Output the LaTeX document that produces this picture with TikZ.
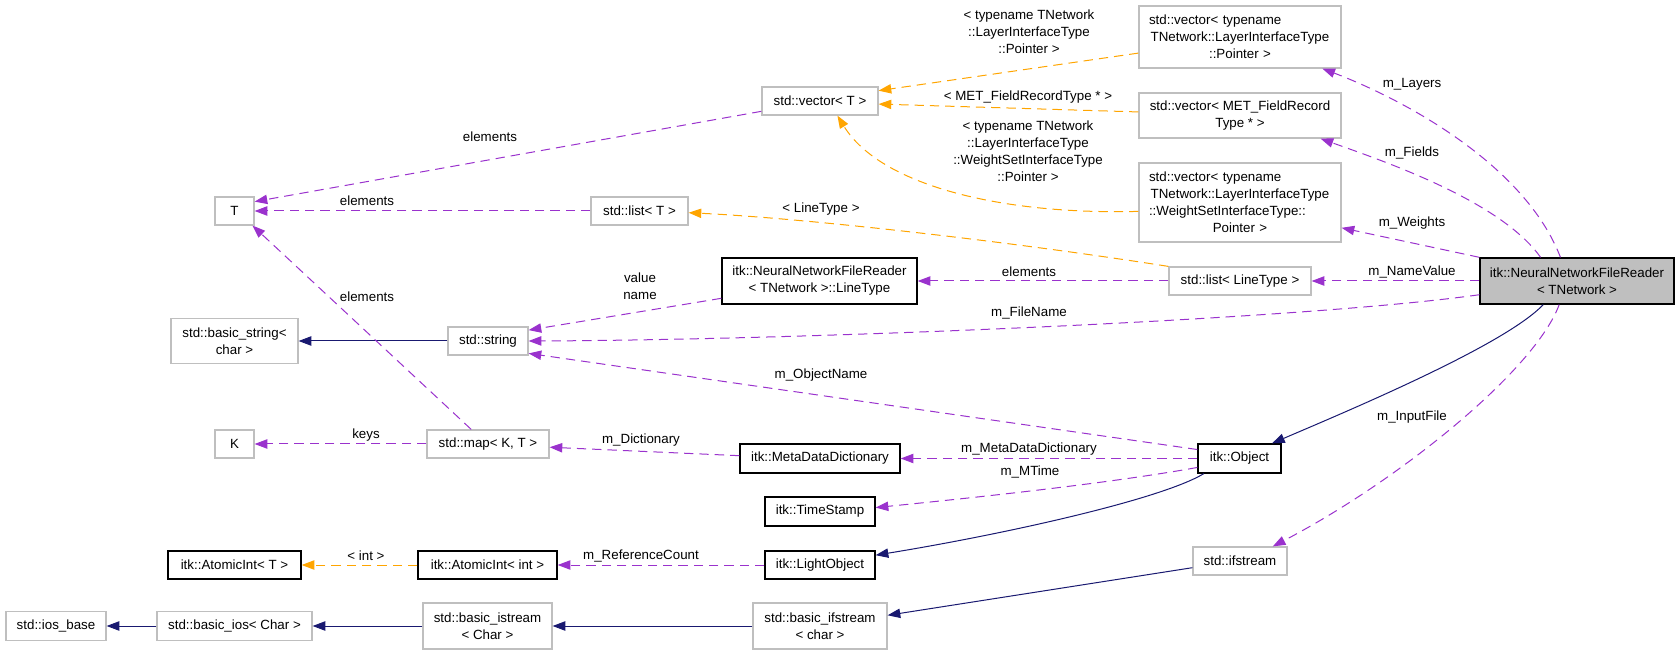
\documentclass[tikz,border=0pt]{standalone}
\usepackage{fontspec}
\setmainfont{Liberation Sans}
\usetikzlibrary{arrows.meta}
\definecolor{membcol}{HTML}{9A32CD}
\definecolor{tmplcol}{HTML}{FFA500}
\definecolor{inhcol}{HTML}{191970}
\definecolor{boxgray}{HTML}{BFBFBF}
\newcommand{\lline}[1]{\makebox[\linewidth][l]{#1}}
\begin{document}
\begin{tikzpicture}[x=0.75pt, y=-0.75pt, >={Triangle[length=9.5pt,width=7pt]},
  every node/.style={font=\fontsize{10pt}{12.75pt}\selectfont},
  gbox/.style={draw=boxgray, line width=0.9pt, align=center, inner sep=0pt},
  bbox/.style={draw=black, line width=1pt, align=center, inner sep=0pt},
  lbl/.style={align=center, inner sep=0pt},
  memb/.style={->, membcol, line width=0.75pt, dash pattern=on 7pt off 4.5pt},
  tmpl/.style={->, tmplcol, line width=0.75pt, dash pattern=on 7pt off 4.5pt},
  inh/.style={->, inhcol, line width=0.75pt}]
\useasboundingbox (0,0) rectangle (1680,655);

\node[bbox, fill=boxgray, minimum width=145.5pt, minimum height=34.5pt] (a) at (1577,281) {itk::NeuralNetworkFileReader\\< TNetwork >};
\node[gbox, text width=136.5pt, minimum width=151.5pt, minimum height=46.5pt] (b) at (1240,37) {\lline{std::vector< typename}\\TNetwork::LayerInterfaceType\\::Pointer >};
\node[gbox, minimum width=151.5pt, minimum height=33.75pt] (c) at (1240,115.5) {std::vector< MET\_FieldRecord\\Type * >};
\node[gbox, text width=136.5pt, minimum width=151.5pt, minimum height=59.25pt] (d) at (1240,202.5) {\lline{std::vector< typename}\\TNetwork::LayerInterfaceType\\\lline{::WeightSetInterfaceType::}\\Pointer >};
\node[gbox, minimum width=87pt, minimum height=21pt] (e) at (820,101) {std::vector< T >};
\node[gbox, minimum width=106.5pt, minimum height=21pt] (f) at (1240,281) {std::list< LineType >};
\node[bbox, minimum width=146.25pt, minimum height=34.5pt] (g) at (819.5,281) {itk::NeuralNetworkFileReader\\< TNetwork >::LineType};
\node[gbox, minimum width=72.75pt, minimum height=21pt] (h) at (639.5,211) {std::list< T >};
\node[gbox, minimum width=29.25pt, minimum height=21pt] (i) at (234.5,211) {T};
\node[gbox, minimum width=60pt, minimum height=21pt] (j) at (488,341) {std::string};
\node[gbox, minimum width=95.25pt, minimum height=33.75pt] (k) at (234.5,341) {std::basic\_string<\\char >};
\node[gbox, minimum width=91.5pt, minimum height=21pt] (l) at (488,444) {std::map< K, T >};
\node[gbox, minimum width=29.25pt, minimum height=21pt] (m) at (234.5,444) {K};
\node[bbox, minimum width=120pt, minimum height=21.75pt] (n) at (820,458.5) {itk::MetaDataDictionary};
\node[bbox, minimum width=62.25pt, minimum height=21.75pt] (o) at (1239.5,458.5) {itk::Object};
\node[bbox, minimum width=82.5pt, minimum height=21.75pt] (p) at (820,511.5) {itk::TimeStamp};
\node[bbox, minimum width=82.5pt, minimum height=21pt] (q) at (820,565) {itk::LightObject};
\node[bbox, minimum width=104.25pt, minimum height=21pt] (r) at (487.5,565) {itk::AtomicInt< int >};
\node[bbox, minimum width=99.75pt, minimum height=21pt] (s) at (234.5,565) {itk::AtomicInt< T >};
\node[gbox, minimum width=70.5pt, minimum height=21pt] (t) at (1240,561) {std::ifstream};
\node[gbox, minimum width=100.5pt, minimum height=34.5pt] (u) at (820,626) {std::basic\_ifstream\\< char >};
\node[gbox, minimum width=96.75pt, minimum height=34.5pt] (v) at (487.5,626) {std::basic\_istream\\< Char >};
\node[gbox, minimum width=116.25pt, minimum height=21.75pt] (w) at (234.5,626) {std::basic\_ios< Char >};
\node[gbox, minimum width=75pt, minimum height=21.75pt] (x) at (56,626) {std::ios\_base};

\node[lbl] (lab1) at (1029,31.5) {< typename TNetwork\\::LayerInterfaceType\\::Pointer >};
\node[lbl] (lab2) at (1028,97) {< MET\_FieldRecordType * >};
\node[lbl] (lab3) at (1028,151) {< typename TNetwork\\::LayerInterfaceType\\::WeightSetInterfaceType\\::Pointer >};
\node[lbl] (lab4) at (821,209) {< LineType >};
\node[lbl] (lab5) at (1029,272) {elements};
\node[lbl] (lab6) at (1412,272) {m\_NameValue};
\node[lbl] (lab7) at (1029,313) {m\_FileName};
\node[lbl] (lab8) at (1412,84) {m\_Layers};
\node[lbl] (lab9) at (1412,153) {m\_Fields};
\node[lbl] (lab10) at (1412,223) {m\_Weights};
\node[lbl] (lab11) at (490,137) {elements};
\node[lbl] (lab12) at (367,201) {elements};
\node[lbl] (lab13) at (367,297) {elements};
\node[lbl] (lab14) at (640,286) {value\\name};
\node[lbl] (lab15) at (366,435) {keys};
\node[lbl] (lab16) at (641,440) {m\_Dictionary};
\node[lbl] (lab17) at (821,375) {m\_ObjectName};
\node[lbl] (lab18) at (366,556) {< int >};
\node[lbl] (lab19) at (641,556) {m\_ReferenceCount};
\node[lbl] (lab20) at (1029,449) {m\_MetaDataDictionary};
\node[lbl] (lab21) at (1030,472) {m\_MTime};
\node[lbl] (lab22) at (1412,417) {m\_InputFile};

\draw[memb] (a.125) .. controls (1525,165) and (1405,100) .. (b.-21);
\draw[memb] (a.147) .. controls (1500,200) and (1380,160) .. (c.-16);
\draw[memb] (a.north west) -- (d.-14);
\draw[memb] (a) -- (f);
\draw[memb] (a.188) .. controls (1300,320) and (800,340) .. (j.east);
\draw[inh] (a.215) .. controls (1505,345) and (1350,410) .. (o.25);
\draw[memb] (a.233) .. controls (1535,370) and (1400,480) .. (t.24);
\draw[tmpl] (b.189) -- (e.10);
\draw[tmpl] (c.178) -- (e.-3);
\draw[tmpl] (d.185) .. controls (1000,215) and (880,185) .. (e.-40);
\draw[memb] (e.190) -- (i.25);
\draw[memb] (f) -- (g);
\draw[tmpl] (f.north west) .. controls (1000,240) and (800,218) .. (h.-2);
\draw[memb] (h) -- (i);
\draw[memb] (g.190) -- (j.15);
\draw[inh] (j) -- (k);
\draw[memb] (l.139) -- (i.-39);
\draw[memb] (l) -- (m);
\draw[memb] (n.178) -- (l.-3);
\draw[memb] (o.168) -- (j.-17);
\draw[memb] (o) -- (n);
\draw[memb] (o.192) .. controls (1100,485) and (950,500) .. (p.4);
\draw[inh] (o.203) .. controls (1160,500) and (1000,535) .. (q.10);
\draw[memb] (q) -- (r);
\draw[tmpl] (r) -- (s);
\draw[inh] (t.188) -- (u.9);
\draw[inh] (u) -- (v);
\draw[inh] (v) -- (w);
\draw[inh] (w) -- (x);
\end{tikzpicture}
\end{document}
